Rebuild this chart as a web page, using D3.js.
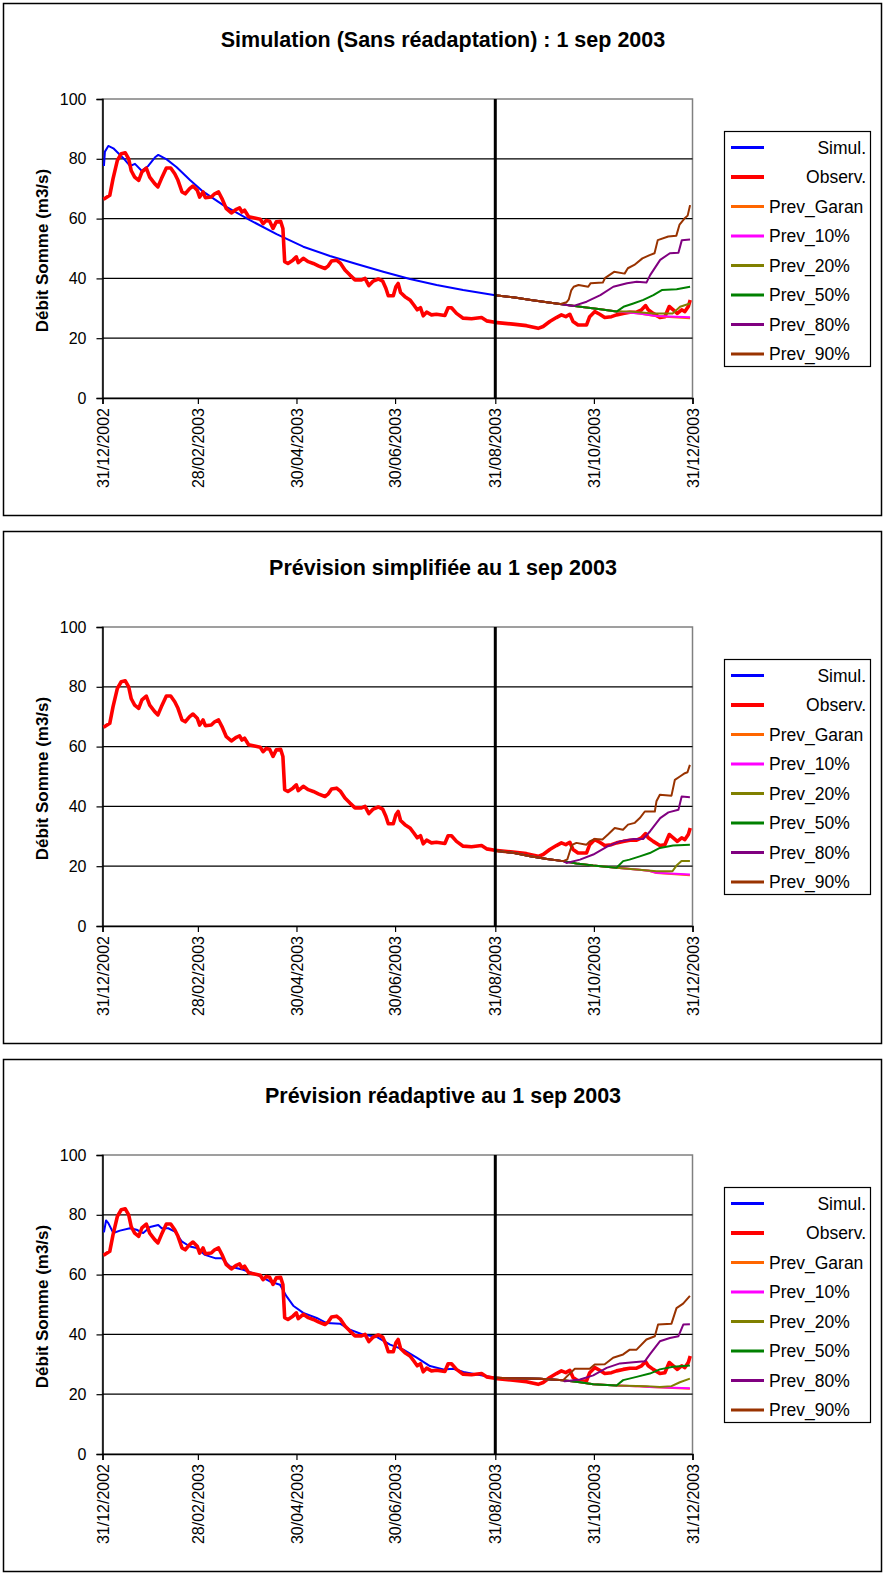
<!DOCTYPE html>
<html>
<head>
<meta charset="utf-8">
<title>Débit Somme - prévisions</title>
<script src="https://d3js.org/d3.v7.min.js"></script>
<style>
  * { margin: 0; padding: 0; }
  body { background: #fff; }
  svg { display: block; font-family: "Liberation Sans", Arial, sans-serif; }
</style>
</head>
<body>
<div id="chart"></div>
<script>
// jours comptés depuis le 31/12/2002
const origin = new Date(2002, 11, 31);

const titles = [
  "Simulation (Sans réadaptation) : 1 sep 2003",
  "Prévision simplifiée au 1 sep 2003",
  "Prévision réadaptive au 1 sep 2003"
];
const yLabel = "Débit Somme (m3/s)";
const yTicks = [0, 20, 40, 60, 80, 100];
const xTickLabels = ["31/12/2002", "28/02/2003", "30/04/2003", "30/06/2003", "31/08/2003", "31/10/2003", "31/12/2003"];
const cutDate = "31/08/2003";

const seriesNames = ["Simul.", "Observ.", "Prev_Garan", "Prev_10%", "Prev_20%", "Prev_50%", "Prev_80%", "Prev_90%"];
const seriesColors = ["#0000ff", "#ff0000", "#ff6600", "#ff00ff", "#808000", "#008000", "#800080", "#993300"];
const seriesWidths = [2, 3.6, 2, 2, 2, 2, 2, 2];

// observé (identique dans les 3 graphes) : [jour, m3/s]
const observ = [[0.5,66.5],[1.4,66.7],[4.5,67.8],[6.5,73.3],[9.2,79.5],[11.6,81.7],[14.1,82],[16.2,80],[17.8,76],[19.9,73.9],
  [22.4,72.8],[24.4,75.6],[27.1,76.9],[29.2,73.9],[32.3,71.7],[34.3,70.6],[36.4,73.3],[39.5,76.9],[42.2,76.9],[44.7,75],
  [46.7,72.8],[49.2,68.9],[51.2,68.3],[53.9,70],[56,70.9],[58.6,69.5],[60.1,67.2],[62.2,68.9],[63.6,67],[67.3,67.2],
  [69.4,68.3],[71.8,68.9],[73.9,66.7],[76.6,63.3],[79.7,61.9],[82.8,63.1],[84.8,63.6],[86.3,62.2],[87.9,62.8],[90.4,60.6],
  [94.1,60.2],[97.6,59.8],[99.3,58.3],[101.3,59.4],[103.4,59.1],[105.5,56.7],[107.5,58.9],[110.2,59.1],[111.6,56.7],[112.7,45.6],
  [114.7,45],[117.8,46.1],[119.9,47.2],[121.1,45.3],[124.2,46.7],[127.3,45.6],[130.4,45],[133.5,44.2],[137.6,43.3],[139.7,44.2],
  [141.7,45.8],[144.8,46.1],[147.3,45],[150,42.8],[153.1,41.1],[156.2,39.5],[160.3,39.5],[162.4,40],[164.8,37.6],[167.5,39.1],
  [170.6,39.8],[173.3,39.1],[175.3,36.7],[176.8,34.2],[179.9,34.2],[181.5,37.2],[182.9,38.3],[184.4,35.3],[187.1,33.9],[190.2,32.8],
  [192.6,31.1],[194.7,29.5],[196.7,30.2],[198.4,27.5],[200.5,28.7],[203.5,27.8],[206.6,28],[211.8,27.6],[213.8,30.2],[215.9,30.2],
  [219,28.3],[223.1,26.7],[228.3,26.5],[234.5,26.9],[237.6,25.8],[242.7,25.3],[254,24.7],[262.3,24.2],[269.5,23.3],[272.6,23.9],
  [276.7,25.6],[280.8,26.9],[283.9,27.8],[286.6,27.2],[289.1,28],[291.1,25.6],[294.2,24.4],[299.4,24.4],[301.4,27.2],[304.6,28.9],
  [307.6,28],[310.7,26.9],[314.9,27.2],[318,27.8],[322.1,28.3],[326.3,28.7],[330.4,28.7],[333.5,29.5],[336,30.9],[337.6,29.5],
  [340.7,28.3],[344.8,26.9],[347.9,27.2],[350.6,30.6],[353.1,29.5],[355.6,28.3],[358.3,29.5],[360.3,28.9],[362.4,30.6],[363.6,32.8]];

// simulations
const simul1 = [[0.9,77.6],[1.5,82.4],[3.6,84.3],[6.7,83.5],[12.9,80.2],[17,77.6],[20.1,78.3],[24.2,76],[28.3,77.6],[32.5,80.5],
  [34.5,81.3],[39.7,79.8],[45.9,77.2],[54.1,72.9],[62.3,69],[74.7,64.5],[91.2,59.5],[107.7,54.8],[124.2,50.6],[140.7,47.5],
  [157.2,44.8],[173.7,42.2],[190.2,39.8],[206.7,37.8],[223.1,36.1],[243,34.4]];
const simul2 = [];
const simul3 = [[0.9,74.1],[2.2,78.1],[3.6,77.2],[6.7,73.9],[10.8,74.7],[17,75.5],[21.1,75],[25.2,73.9],[29.4,75.9],[34.5,76.6],
  [36.6,75.5],[40.7,75.5],[44.8,74.4],[49,71.1],[54.1,69.4],[58.3,68.9],[63.4,66.6],[69.6,65.5],[73.7,65.5],[78.9,62.7],
  [87.1,61.6],[95.4,60],[103.6,57.7],[109.8,56.6],[113.9,52.7],[118,49.6],[124.2,47.2],[132.5,45.5],[138.7,43.8],[146.9,43.6],
  [153.1,41.6],[161.4,39.9],[169.6,39.2],[177.9,36.6],[186.1,34.9],[194.4,32.2],[202.6,29.4],[210.9,28.3],[217,28.5],[223.3,27.4],
  [231.5,26.6],[243,25.5]];

// prévisions - graphe 1
const f1_start = [[243,34.4],[255,33.6],[265,32.8],[275,32],[283,31.4]];
const f1_garan = [[295.6,30.5],[308,29.7],[318,28.9],[326,28.6],[333,28.2],[342.7,27.3],[363.5,26.7]];
const f1_p10 = [[295.6,30.5],[308,29.7],[318,28.9],[326,28.6],[333,28.2],[342.7,27.4],[363.5,27]];
const f1_p20 = [[295.6,30.5],[308,29.7],[318,28.9],[326.3,28.9],[340.8,28.3],[352.8,28.3],[357.3,30.5],[363.5,31.6]];
const f1_p50 = [[295.6,30.5],[308,29.7],[318,28.9],[322.3,30.5],[328.4,31.6],[334.6,32.8],[340.8,34.4],[346,36.1],[355.2,36.4],[363.5,37.2]];
const f1_p80 = [[287,31.1],[291.5,30.8],[299.5,32.2],[308,34.4],[316,37.2],[324.5,38.4],[330.5,38.9],[336.5,38.6],[338.8,41.1],[345,46.2],
  [351,48.4],[356.3,48.6],[358.4,52.8],[363.5,53]];
const f1_p90 = [[287,32],[288.5,33],[290,36],[291.5,37.2],[294.5,37.8],[300.5,37.2],[302,38.4],[309.5,38.6],[311,40.2],[316.5,42.2],
  [323,41.6],[325,43.4],[329,44.5],[334,46.7],[338.5,47.8],[341.5,48.4],[343.5,52.8],[350,54],[355,54.3],[357,58],
  [360,60],[362,61],[363.5,64.5]];

// prévisions - graphe 2
const f2_start = [[243,25.2],[254,24.5],[264.6,23.3],[275,22.4],[285,21.7]];
const f2_garan = [[293.2,20.9],[303.5,20.2],[318,19.5],[330.4,18.9],[338,18.5],[342.7,17.7],[363.4,17]];
const f2_p10 = [[293.2,20.9],[303.5,20.2],[318,19.5],[330.4,18.9],[338,18.5],[342.7,17.8],[363.4,17.2]];
const f2_p20 = [[293.2,20.9],[303.5,20.2],[318,19.5],[330.4,18.9],[342.7,18.3],[352.6,18.3],[355.1,20.2],[358.2,21.7],[363.4,21.7]];
const f2_p50 = [[293.2,20.9],[303.5,20.2],[318,19.5],[322.1,21.7],[326,22.2],[332.4,23.3],[338.6,24.4],[344.8,26.1],[353,26.9],[363.4,27.2]];
const f2_p80 = [[287.1,21.1],[295.4,22.2],[303.6,23.9],[311.9,26.5],[320.1,28.3],[328.4,29.1],[334.5,29.1],[338.8,31.7],[345,36.1],
  [350.1,38],[356.3,38.9],[358.3,43.3],[363.4,43.1]];
const f2_p90 = [[287.6,22.3],[289.5,25.6],[290.8,27.2],[293.2,27.8],[299.4,27.2],[301.4,28.3],[304.5,29.1],[309.3,28.9],[312.7,30.6],
  [316.9,32.8],[322,32.2],[325.1,33.9],[329.3,34.5],[332.4,36.1],[335.5,38.3],[341.7,38.3],[342.7,41.7],[344.8,43.9],[352,43.6],
  [354.1,48.9],[357.2,50],[360.3,51.1],[361.9,51.4],[363.4,53.9]];

// prévisions - graphe 3
const f3_start = [[243,25.5],[255,25.3],[270.6,25.2],[285,24.7]];
const f3_garan = [[295.4,24],[303.6,23.3],[318,22.9],[330,22.7],[338.6,22.4],[363.4,21.8]];
const f3_p10 = [[295.4,24],[303.6,23.3],[318,22.9],[330,22.7],[338.6,22.4],[363.4,22]];
const f3_p20 = [[295.4,24],[303.6,23.3],[318,22.9],[336.5,22.7],[344.8,22.4],[352,22.7],[357.2,24],[363.4,25.2]];
const f3_p50 = [[295.4,24],[303.6,23.3],[318,22.9],[322.1,24.7],[330.4,25.8],[338.6,26.9],[344.8,28.3],[353,29.2],[363.4,29.6]];
const f3_p80 = [[286,24.3],[295.4,24.9],[303.6,26.3],[311.9,28.8],[320.1,30.3],[328.4,30.7],[335.5,31],[338.6,33.3],[344.8,37.7],
  [351,38.8],[356.3,39.4],[359.3,43.3],[363.4,43.4]];
const f3_p90 = [[287,25.8],[292.2,28.5],[301.4,28.5],[304.5,29.9],[310.7,30],[315.9,32.2],[322.1,33.3],[326.2,34.9],[330.4,34.9],
  [336.5,38.3],[341.7,39.4],[343.7,43.3],[352,43.6],[355.1,48.8],[359.2,50.3],[363.4,52.9]];

const panels = [
  { simul: simul1, start: f1_start, prev: [f1_garan, f1_p10, f1_p20, f1_p50, f1_p80, f1_p90] },
  { simul: simul2, start: f2_start, prev: [f2_garan, f2_p10, f2_p20, f2_p50, f2_p80, f2_p90] },
  { simul: simul3, start: f3_start, prev: [f3_garan, f3_p10, f3_p20, f3_p50, f3_p80, f3_p90] }
];

const W = 885, H = 1574, panelStep = 528;
const parseDate = d3.timeParse("%d/%m/%Y");
const dayToDate = d => new Date(origin.getTime() + d * 86400000);

const x = d3.scaleTime()
  .domain([parseDate(xTickLabels[0]), parseDate(xTickLabels[xTickLabels.length - 1])])
  .range([102.5, 692.5]);
const y = d3.scaleLinear().domain([0, 100]).range([398, 99]);

const svg = d3.select("#chart").append("svg")
  .attr("width", W).attr("height", H)
  .attr("viewBox", `0 0 ${W} ${H}`);

const line = d3.line()
  .x(d => x(dayToDate(d[0])))
  .y(d => y(d[1]));

panels.forEach((p, i) => {
  const g = svg.append("g").attr("transform", `translate(0,${i * panelStep})`);

  // cadre du graphe
  g.append("rect")
    .attr("x", 3.5).attr("y", 3.5).attr("width", 878).attr("height", 512)
    .attr("fill", "#fff").attr("stroke", "#000").attr("stroke-width", 1.5);

  g.append("text")
    .attr("x", 443).attr("y", 47)
    .attr("text-anchor", "middle")
    .style("font-size", "21.5px").style("font-weight", "bold")
    .text(titles[i]);

  // zone de tracé
  g.append("rect")
    .attr("x", x.range()[0]).attr("y", y(100))
    .attr("width", x.range()[1] - x.range()[0]).attr("height", y(0) - y(100))
    .attr("fill", "#fff").attr("stroke", "#808080").attr("stroke-width", 1.5);

  // quadrillage
  g.append("g").selectAll("line")
    .data(yTicks.filter(v => v > 0 && v < 100))
    .join("line")
    .attr("x1", x.range()[0]).attr("x2", x.range()[1])
    .attr("y1", d => y(d)).attr("y2", d => y(d))
    .attr("stroke", "#000").attr("stroke-width", 1.2);

  // axe Y
  const yAxis = g.append("g")
    .attr("transform", `translate(${x.range()[0]},0)`)
    .call(d3.axisLeft(y).tickValues(yTicks).tickSize(6).tickPadding(10));
  yAxis.select(".domain").attr("stroke", "#000").attr("stroke-width", 1.5);
  yAxis.selectAll(".tick line").attr("stroke", "#000").attr("stroke-width", 1.2);
  yAxis.selectAll("text")
    .style("font-size", "16px").style("font-family", "Liberation Sans, Arial, sans-serif")
    .attr("fill", "#000");

  // axe X
  const xAxis = g.append("g")
    .attr("transform", `translate(0,${y(0)})`)
    .call(d3.axisBottom(x).tickValues(xTickLabels.map(parseDate)).tickFormat(d3.timeFormat("%d/%m/%Y")).tickSize(6));
  xAxis.select(".domain").attr("stroke", "#000").attr("stroke-width", 1.5);
  xAxis.selectAll(".tick line").attr("stroke", "#000").attr("stroke-width", 1.2);
  xAxis.selectAll("text")
    .style("font-size", "16px").style("font-family", "Liberation Sans, Arial, sans-serif")
    .attr("fill", "#000")
    .attr("transform", "rotate(-90)")
    .attr("text-anchor", "end")
    .attr("x", -10).attr("y", 0).attr("dy", "0.35em");

  // titre de l'axe Y
  g.append("text")
    .attr("transform", `translate(42,${(y(0) + y(100)) / 2 + 2}) rotate(-90)`)
    .attr("text-anchor", "middle").attr("dy", "0.35em")
    .style("font-size", "17px").style("font-weight", "bold")
    .text(yLabel);

  // séries
  const series = [p.simul, observ].concat(p.prev.map(s => p.start.concat(s)));
  g.append("g").selectAll("path")
    .data(series)
    .join("path")
    .attr("d", d => d.length ? line(d) : null)
    .attr("fill", "none")
    .attr("stroke", (d, k) => seriesColors[k])
    .attr("stroke-width", (d, k) => seriesWidths[k])
    .attr("stroke-linejoin", "round");

  // trait vertical au 31/08/2003
  g.append("line")
    .attr("x1", x(parseDate(cutDate))).attr("x2", x(parseDate(cutDate)))
    .attr("y1", y(100)).attr("y2", y(0))
    .attr("stroke", "#000").attr("stroke-width", 3);

  // légende
  const lg = g.append("g").attr("transform", "translate(724,131)");
  lg.append("rect")
    .attr("x", 0.5).attr("y", 0.5).attr("width", 146).attr("height", 235)
    .attr("fill", "#fff").attr("stroke", "#000").attr("stroke-width", 1.2);
  seriesNames.forEach((name, k) => {
    const ly = 16.5 + k * 29.5;
    lg.append("line")
      .attr("x1", 7).attr("x2", 40).attr("y1", ly).attr("y2", ly)
      .attr("stroke", seriesColors[k]).attr("stroke-width", k === 1 ? 4 : 3);
    lg.append("text")
      .attr("x", k < 2 ? 142 : 45).attr("y", ly).attr("dy", "0.35em")
      .attr("text-anchor", k < 2 ? "end" : "start")
      .style("font-size", "17.5px")
      .text(name);
  });
});
</script>
</body>
</html>
